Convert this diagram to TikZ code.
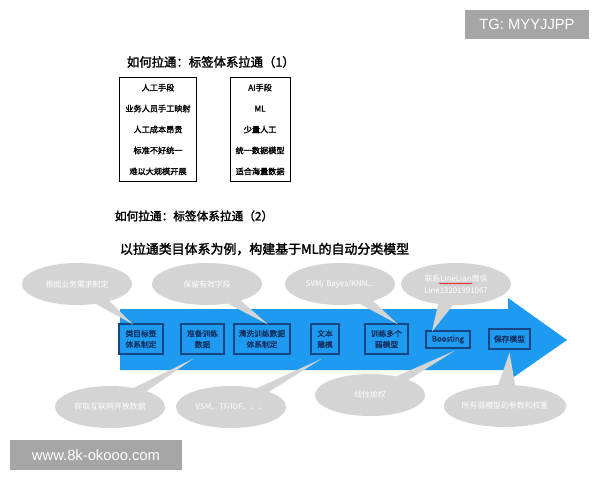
\documentclass[tikz,border=0pt]{standalone}
\usepackage{fontspec}
\setmainfont{Liberation Sans}
\newfontfamily\cjk[AutoFakeBold=2]{Noto Sans CJK SC}
\usetikzlibrary{shapes.callouts,shapes.geometric,positioning,calc,decorations.pathmorphing}
\definecolor{flowblue}{RGB}{30,155,240}
\definecolor{stageline}{RGB}{22,70,130}
\definecolor{stagetext}{RGB}{20,50,100}
\definecolor{bubblegray}{RGB}{212,212,212}
\definecolor{markgray}{RGB}{166,166,166}

\begin{document}
\begin{tikzpicture}[x=0.025cm, y=-0.025cm,
    title/.style={anchor=west, font=\cjk\bfseries\fontsize{8.8}{10}\selectfont},
    listbox/.style={rectangle, draw, thin, align=center, inner sep=0pt, minimum height=2.6cm, font=\cjk\bfseries\fontsize{5.8}{14.9}\selectfont},
    stage/.style={rectangle, draw=stageline, line width=0.8pt, text=stagetext, align=center, inner sep=1pt, minimum height=0.75cm, font=\cjk\bfseries\fontsize{5.5}{7.8}\selectfont},
    bubble/.style={ellipse callout, fill=bubblegray, text=white, align=center, minimum width=2.75cm, minimum height=1.05cm, inner sep=0pt, callout pointer arc=16, font=\cjk\fontsize{5.6}{8.5}\selectfont},
    watermark/.style={rectangle, fill=markgray, text=white, inner sep=0pt, font=\fontsize{10.5}{12}\selectfont}]

    \fill[white] (0,0) rectangle (600,480);
    \useasboundingbox (0,0) rectangle (600,480);

    % Part 1
    \node [title] (head1) at (122,62) {如何拉通：标签体系拉通（1）};
    \node [listbox, minimum width=1.925cm] (manual) at (158,129.5)
        {人工手段\\业务人员手工映射\\人工成本昂贵\\标准不好统一\\难以大规模开展};
    \node [listbox, minimum width=1.5cm, right=0.825cm of manual] (auto)
        {AI手段\\ML\\少量人工\\统一数据模型\\适合海量数据};

    % Part 2
    \node [title, font=\cjk\bfseries\fontsize{8.3}{10}\selectfont] (head2) at (110,216) {如何拉通：标签体系拉通（2）};
    \node [title, font=\cjk\bfseries\fontsize{9.2}{11}\selectfont] (goal) at (115,249) {以拉通类目体系为例，构建基于ML的自动分类模型};

    % Big arrow
    \fill [flowblue] (120,309) -- (508,309) -- (508,298) -- (567,340)
        -- (508,381) -- (508,370) -- (120,370) -- cycle;

    % Stages
    \node [stage, minimum width=1.1cm] (s1) at (141,339) {类目标签\\体系制定};
    \node [stage, minimum width=1.075cm] (s2) at (202.5,339) {准备训练\\数据};
    \node [stage, minimum width=1.4cm] (s3) at (262,339) {清洗训练数据\\体系制定};
    \node [stage, minimum width=0.7cm] (s4) at (325,339) {文本\\建模};
    \node [stage, minimum width=1.075cm] (s5) at (386.5,339) {训练多个\\弱模型};
    \node [stage, minimum width=1.1cm, minimum height=0.425cm] (s6) at (448,339.5) {Boosting};
    \node [stage, minimum width=1.025cm, minimum height=0.5cm] (s7) at (509.5,339) {保存模型};

    % Callouts
    \node [bubble, callout absolute pointer={($(s1.north)+(-8,1)$)}] (c1) at (77,284) {根据业务需求制定};
    \node [bubble, callout absolute pointer={($(s3.north)+(6,1)$)}] (c2) at (207,284) {保留有效字段};
    \node [bubble, callout absolute pointer={($(s5.north)+(11.5,1)$)}] (c3) at (340,284) {SVM/ Bayes/KNN...};
    \node [bubble, callout absolute pointer={($(s6.north)+(-16,1)$)}] (c4) at (456,284) {联系LineLian微信\\Line13201991067};
    \draw [red, decorate, decoration={snake, amplitude=0.3pt, segment length=2pt}]
        ($(c4.center)+(-17,-0.5)$) -- ($(c4.center)+(16,-0.5)$);
    \node [bubble, callout absolute pointer={($(s2.south)+(-9,4)$)}] (c5) at (110,407) {爬取互联网开放数据};
    \node [bubble, callout absolute pointer={($(s4.south)+(-3,4)$)}] (c6) at (231,407) {VSM、TF/IDF、、、};
    \node [bubble, callout absolute pointer={($(s6.south)+(7,2)$)}] (c7) at (370,395) {线性加权};
    \node [bubble, callout absolute pointer={($(s7.south)+(0,3)$)}] (c8) at (505,406) {所有弱模型的参数和权重};

    % Watermarks
    \node [watermark, minimum width=3.1cm, minimum height=0.725cm] (tg) at (527,24.5) {TG: MYYJJPP};
    \node [watermark, minimum width=4.3cm, minimum height=0.75cm] (site) at (96,455) {www.8k-okooo.com};

\end{tikzpicture}
\end{document}
